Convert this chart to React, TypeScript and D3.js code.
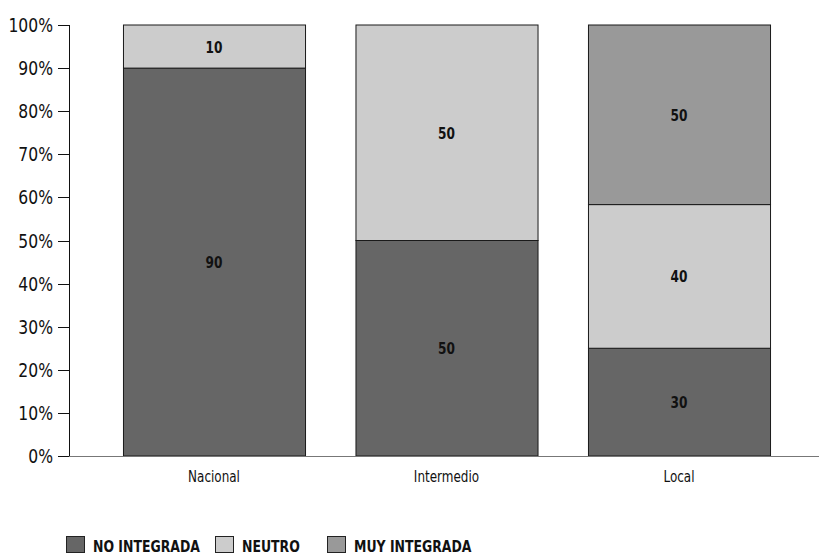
import React from "react";
import * as d3 from "d3";

const categories = ["Nacional", "Intermedio", "Local"];
const seriesKeys = ["NO INTEGRADA", "NEUTRO", "MUY INTEGRADA"];
const noIntegrada = [90, 50, 30];
const neutro = [10, 50, 40];
const muyIntegrada = [0, 0, 50];
const yTicks = [0, 0.1, 0.2, 0.3, 0.4, 0.5, 0.6, 0.7, 0.8, 0.9, 1];
const colors = ["#666666", "#cccccc", "#999999"];

const W = 819;
const H = 555;
const FONT = "'DejaVu Sans', sans-serif";

// Text squeezed horizontally to get a condensed face
function NText({
  x,
  y,
  sx = 0.78,
  anchor = "start",
  size,
  bold = false,
  children,
}: {
  x: number;
  y: number;
  sx?: number;
  anchor?: "start" | "middle" | "end";
  size: number;
  bold?: boolean;
  children: React.ReactNode;
}) {
  return (
    <g transform={`translate(${x},${y}) scale(${sx},1)`}>
      <text x={0} y={0} textAnchor={anchor} fontSize={size} fontWeight={bold ? "bold" : "normal"} fill="#111">
        {children}
      </text>
    </g>
  );
}

export default function App() {
  const rows = categories.map((c, i) => ({
    cat: c,
    "NO INTEGRADA": noIntegrada[i],
    NEUTRO: neutro[i],
    "MUY INTEGRADA": muyIntegrada[i],
  }));
  const stack = d3.stack<any>().keys(seriesKeys).offset(d3.stackOffsetExpand);
  const layers = stack(rows);

  const x = d3
    .scaleBand()
    .domain(categories)
    .range([97.75, 795.25])
    .paddingInner(0.217)
    .paddingOuter(0.1085);
  const y = d3.scaleLinear().domain([0, 1]).range([456, 25]);
  const axisX = 69;

  const legendItems = [
    { key: seriesKeys[0], x: 66 },
    { key: seriesKeys[1], x: 215 },
    { key: seriesKeys[2], x: 327 },
  ];

  return (
    <svg
      width={W}
      height={H}
      style={{ position: "absolute", left: 0, top: 0, background: "#fff" }}
      fontFamily={FONT}
    >
      <rect width={W} height={H} fill="#fff" />
      {/* stacked bars */}
      {layers.map((layer, li) =>
        layer.map((d, i) => {
          const v = (rows[i] as any)[layer.key];
          if (!v) return null;
          const x0 = x(categories[i])!;
          const top = y(d[1]);
          const bot = y(d[0]);
          return (
            <g key={layer.key + i}>
              <rect
                x={x0 + 0.5}
                y={top}
                width={x.bandwidth()}
                height={bot - top}
                fill={colors[li]}
                stroke="#1a1a1a"
                strokeWidth={1}
              />
              <NText x={x0 + x.bandwidth() / 2} y={(top + bot) / 2 + 6} anchor="middle" size={16} bold sx={0.76}>
                {v}
              </NText>
            </g>
          );
        })
      )}
      {/* axes */}
      <line x1={58} x2={W} y1={456.5} y2={456.5} stroke="#777" strokeWidth={1} />
      <line x1={axisX + 0.5} x2={axisX + 0.5} y1={25} y2={456} stroke="#111" strokeWidth={1} />
      {yTicks.map((t) => (
        <g key={t}>
          <line x1={58} x2={axisX} y1={Math.round(y(t)) + 0.5} y2={Math.round(y(t)) + 0.5} stroke="#111" />
          <NText x={53} y={y(t) + 7} anchor="end" size={20} sx={0.78}>
            {d3.format(".0%")(t)}
          </NText>
        </g>
      ))}
      {categories.map((c) => (
        <NText key={c} x={x(c)! + x.bandwidth() / 2} y={482} anchor="middle" size={15} sx={0.8}>
          {c}
        </NText>
      ))}
      {/* legend */}
      {legendItems.map((it, i) => (
        <g key={it.key}>
          <rect x={it.x + 0.5} y={536.5} width={18} height={16} fill={colors[i]} stroke="#222" />
          <NText x={it.x + 27} y={552} size={16} bold sx={0.78}>
            {it.key}
          </NText>
        </g>
      ))}
    </svg>
  );
}
